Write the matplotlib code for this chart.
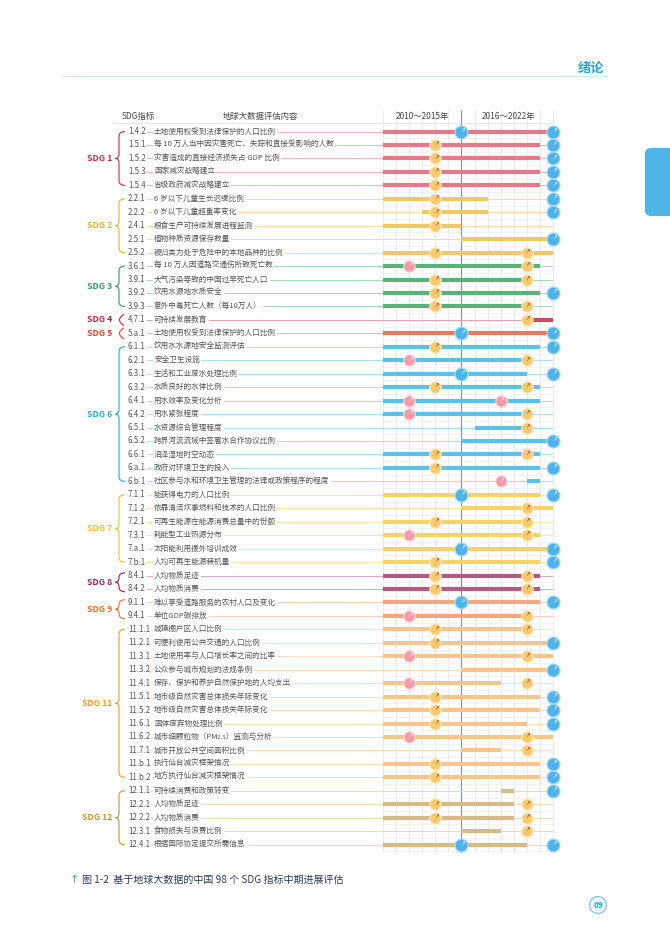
import matplotlib.pyplot as plt
from matplotlib.path import Path
from matplotlib.patches import PathPatch, FancyBboxPatch, Circle

plt.rcParams['font.family'] = ['Noto Sans CJK SC', 'DejaVu Sans']

# ---- data ----
codes = ['1.4.2', '1.5.1', '1.5.2', '1.5.3', '1.5.4',
         '2.2.1', '2.2.2', '2.4.1', '2.5.1', '2.5.2',
         '3.6.1', '3.9.1', '3.9.2', '3.9.3',
         '4.7.1', '5.a.1',
         '6.1.1', '6.2.1', '6.3.1', '6.3.2', '6.4.1', '6.4.2', '6.5.1', '6.5.2', '6.6.1', '6.a.1', '6.b.1',
         '7.1.1', '7.1.2', '7.2.1', '7.3.1', '7.a.1', '7.b.1',
         '8.4.1', '8.4.2', '9.1.1', '9.4.1',
         '11.1.1', '11.2.1', '11.3.1', '11.3.2', '11.4.1', '11.5.1', '11.5.2', '11.6.1', '11.6.2',
         '11.7.1', '11.b.1', '11.b.2',
         '12.1.1', '12.2.1', '12.2.2', '12.3.1', '12.4.1']

names = ['土地使用权受到法律保护的人口比例',
         '每 10 万人当中因灾害死亡、失踪和直接受影响的人数',
         '灾害造成的直接经济损失占 GDP 比例',
         '国家减灾战略建立',
         '省级政府减灾战略建立',
         '6 岁以下儿童生长迟缓比例',
         '6 岁以下儿童超重率变化',
         '粮食生产可持续发展进程监测',
         '植物种质资源保存数量',
         '被归类为处于危险中的本地品种的比例',
         '每 10 万人因道路交通伤所致死亡数',
         '大气污染导致的中国过早死亡人口',
         '饮用水源地水质安全',
         '意外中毒死亡人数（每10万人）',
         '可持续发展教育',
         '土地使用权受到法律保护的人口比例',
         '饮用水水源地安全监测评估',
         '安全卫生设施',
         '生活和工业废水处理比例',
         '水质良好的水体比例',
         '用水效率及变化分析',
         '用水紧张程度',
         '水资源综合管理程度',
         '跨界河流流域中签署水合作协议比例',
         '沼泽湿地时空动态',
         '政府对环境卫生的投入',
         '社区参与水和环境卫生管理的法律或政策程序的程度',
         '能获得电力的人口比例',
         '依靠清洁炊事燃料和技术的人口比例',
         '可再生能源在能源消费总量中的份额',
         '耗能型工业热源分布',
         '太阳能利用援外培训成效',
         '人均可再生能源装机量',
         '人均物质足迹',
         '人均物质消费',
         '难以享受道路服务的农村人口及变化',
         '单位GDP碳排放',
         '城镇棚户区人口比例',
         '可便利使用公共交通的人口比例',
         '土地使用率与人口增长率之间的比率',
         '公众参与城市规划的法规条例',
         '保存、保护和养护自然保护地的人均支出',
         '地市级自然灾害总体损失年际变化',
         '地市级自然灾害总体损失年际变化',
         '固体废弃物处理比例',
         '城市细颗粒物（PM₂.₅）监测与分析',
         '城市开放公共空间面积比例',
         '执行仙台减灾框架情况',
         '地方执行仙台减灾框架情况',
         '可持续消费和政策转变',
         '人均物质足迹',
         '人均物质消费',
         '食物损失与浪费比例',
         '根据国际协定提交所需信息']

sdg_of_row = [1] * 5 + [2] * 5 + [3] * 4 + [4, 5] + [6] * 11 + [7] * 6 + [8] * 2 + [9] * 2 + [11] * 12 + [12] * 5

# evaluated period of each indicator (year boundaries)
bar_start = [2010, 2010, 2010, 2010, 2010,
             2010, 2013, 2010, 2016, 2010,
             2010, 2010, 2010, 2010,
             2021, 2010,
             2010, 2010, 2010, 2010, 2010, 2010, 2017, 2016, 2010, 2010, 2021,
             2010, 2016, 2010, 2010, 2010, 2010,
             2010, 2010, 2010, 2010,
             2010, 2010, 2010, 2016, 2010, 2010, 2010, 2010, 2010, 2016, 2010, 2010,
             2019, 2010, 2010, 2016, 2010]
bar_end = [2023, 2022, 2022, 2022, 2022,
           2018, 2018, 2016, 2023, 2023,
           2022, 2021, 2022, 2021,
           2023, 2023,
           2022, 2021, 2021, 2022, 2022, 2021, 2021, 2023, 2022, 2022, 2022,
           2022, 2023, 2021, 2022, 2023, 2022,
           2022, 2022, 2022, 2021,
           2021, 2023, 2023, 2023, 2019, 2022, 2022, 2021, 2023, 2019, 2022, 2022,
           2020, 2020, 2020, 2019, 2021]

# assessment marks: o = 中等, p = 较差, b = 良好 (None = no mark)
mark1_pos = [2016, 2014, 2014, 2014, 2014,
             2014, 2014, 2014, None, 2014,
             2012, 2014, 2014, 2014,
             None, 2016,
             2014, 2012, 2016, 2014, 2012, 2012, None, None, 2014, 2014, 2019,
             2016, None, 2014, 2012, 2016, 2014,
             2014, 2014, 2016, 2012,
             2014, 2014, 2012, None, 2012, 2014, 2014, 2014, 2012, None, 2014, 2014,
             None, 2014, 2014, None, 2016]
mark1_kind = ['b', 'o', 'o', 'o', 'o',
              'o', 'o', 'o', None, 'o',
              'p', 'o', 'o', 'o',
              None, 'b',
              'o', 'p', 'b', 'o', 'p', 'p', None, None, 'o', 'o', 'p',
              'b', None, 'o', 'p', 'b', 'o',
              'o', 'o', 'b', 'p',
              'o', 'o', 'p', None, 'p', 'o', 'o', 'o', 'p', None, 'o', 'o',
              None, 'o', 'o', None, 'b']
mark2_pos = [2023, 2023, 2023, 2023, 2023,
             2023, 2023, None, 2023, 2021,
             2021, 2021, 2023, 2021,
             2021, 2023,
             2023, 2021, 2023, 2021, 2019, 2021, 2021, 2023, 2021, 2023, None,
             2023, 2021, 2021, 2021, 2023, 2023,
             2021, 2021, 2023, 2021,
             2021, 2023, 2021, 2023, 2021, 2023, 2023, 2023, 2021, 2021, 2023, 2023,
             2023, 2021, 2021, 2021, 2023]
mark2_kind = ['b', 'b', 'b', 'b', 'b',
              'b', 'b', None, 'b', 'o',
              'o', 'o', 'b', 'o',
              'o', 'b',
              'b', 'o', 'b', 'o', 'p', 'o', 'o', 'b', 'o', 'b', None,
              'b', 'o', 'o', 'o', 'b', 'b',
              'o', 'o', 'b', 'o',
              'o', 'b', 'o', 'b', 'o', 'b', 'b', 'b', 'o', 'o', 'b', 'b',
              'b', 'o', 'o', 'o', 'b']

sdg_ids = [1, 2, 3, 4, 5, 6, 7, 8, 9, 11, 12]
sdg_label_colors = ['#cf2a40', '#e3b325', '#2f9d52', '#c3223c', '#e9402e', '#1caee0',
                    '#f2bf1e', '#a21d4c', '#f06a2c', '#f29a1e', '#c7982e']
sdg_bar_colors = ['#e27a88', '#edcb62', '#58b37a', '#c94b5c', '#ee7464', '#5ec1e3',
                  '#f6d462', '#b05b80', '#f5a67c', '#f6c58f', '#d6bb84']
sdg_line_colors = ['#eab5bd', '#f2dfa4', '#a9d8b8', '#e2a4ad', '#f5b8af', '#ade0f1',
                   '#f8e5a6', '#d7aabd', '#f9d2bc', '#f9dfc3', '#e8dbbe']

mark_face = {'o': '#f8c96f', 'p': '#f39aa8', 'b': '#4db3ea'}
mark_edge = {'o': '#fde7bb', 'p': '#fbd2d8', 'b': '#a6daf5'}
mark_size = {'o': 66, 'p': 66, 'b': 86}
mark_icon = {'o': '#6b4c22', 'p': '#ffffff', 'b': '#ffffff'}

n_rows = len(codes)
text_gray = '#555555'

# ---- figure ----
W, H = 670, 947
fig = plt.figure(figsize=(W / 100, H / 100), dpi=100)

# page layer in pixel units
page = fig.add_axes([0, 0, 1, 1])
page.set_xlim(0, W)
page.set_ylim(H, 0)
page.axis('off')
page.plot([62, 607], [76, 76], color='#d5e7ef', lw=0.8)
page.text(604, 68, '绪论', color='#2ba6d9', fontsize=9.5, fontweight='bold', ha='right', va='center')
page.add_patch(FancyBboxPatch((645, 148), 40, 68, boxstyle='round,pad=0,rounding_size=6',
                              facecolor='#4db6e6', edgecolor='none'))
page.text(70, 880, '↑', color='#2ba6d9', fontsize=8, ha='left', va='center', family=['DejaVu Sans'])
page.text(82, 880, '图 1-2  基于地球大数据的中国 98 个 SDG 指标中期进展评估', color='#2b3a58',
          fontsize=7.2, ha='left', va='center')
page.add_patch(Circle((598, 905), 8.5, facecolor='#eaf6fc', edgecolor='#7ccbec', lw=0.9))
page.text(598, 905.5, '09', color='#2ba6d9', fontsize=6, fontweight='bold', ha='center', va='center')

top_px, bot_px = 110, 852
y_top, y_bot = -1.6, n_rows - 0.45
ax_h = (bot_px - top_px) / H
ax_b = 1 - bot_px / H

lab = fig.add_axes([0, ax_b, 383 / W, ax_h])
lab.set_xlim(0, 383)
lab.set_ylim(y_bot, y_top)
lab.axis('off')

ax = fig.add_axes([383 / W, ax_b, 170 / W, ax_h])
ax.set_xlim(2010, 2023)
ax.set_ylim(y_bot, y_top)
ax.axis('off')

# grid
for yr in range(2010, 2024):
    ax.plot([yr, yr], [y_top, y_bot], color='#e6e6e6', lw=0.6, zorder=0, clip_on=False)
for r in range(n_rows + 1):
    ax.plot([2010, 2023], [r - 0.5, r - 0.5], color='#efefef', lw=0.5, zorder=0)
ax.plot([2016, 2016], [y_top, y_bot], color='#7f93a3', lw=0.8, zorder=1, clip_on=False)

# header
lab.plot([113, 383], [-0.62, -0.62], color='#e2e2e2', lw=0.6)
ax.plot([2010, 2023], [-0.62, -0.62], color='#e2e2e2', lw=0.6)
lab.text(138, -1.1, 'SDG指标', fontsize=6, color='#444444', ha='center', va='center')
lab.text(260, -1.1, '地球大数据评估内容', fontsize=6, color='#444444', ha='center', va='center')
ax.text(2013, -1.1, '2010～2015年', fontsize=6, color='#444444', ha='center', va='center')
ax.text(2019.6, -1.1, '2016～2022年', fontsize=6, color='#444444', ha='center', va='center')

# rows
for i in range(n_rows):
    g = sdg_ids.index(sdg_of_row[i])
    lc = sdg_line_colors[g]
    lab.plot([128, 383], [i, i], color=lc, lw=0.7, zorder=1)
    ax.plot([2010, 2023], [i, i], color=lc, lw=0.7, zorder=1)
    lab.text(128, i, codes[i], fontsize=5.7, color=text_gray, ha='left', va='center', zorder=2,
             bbox=dict(facecolor='white', edgecolor='none', pad=0.8))
    lab.text(154, i, names[i], fontsize=5.5, color=text_gray, ha='left', va='center', zorder=2,
             bbox=dict(facecolor='white', edgecolor='none', pad=0.8))
    ax.plot([bar_start[i], bar_end[i]], [i, i], color=sdg_bar_colors[g], lw=3.0,
            solid_capstyle='butt', zorder=2, clip_on=False)
    for pos, kind in ((mark1_pos[i], mark1_kind[i]), (mark2_pos[i], mark2_kind[i])):
        if kind is None:
            continue
        ax.scatter([pos], [i], s=mark_size[kind], color=mark_face[kind], edgecolors=mark_edge[kind],
                   linewidths=0.9, zorder=3, clip_on=False)
        ax.text(pos + 0.08, i - 0.08, '↗', fontsize=4, color=mark_icon[kind], ha='center', va='center',
                family=['DejaVu Sans'], zorder=4, clip_on=False)

# group braces and labels
for g, sid in enumerate(sdg_ids):
    rows = [i for i in range(n_rows) if sdg_of_row[i] == sid]
    r0, r1 = rows[0], rows[-1]
    mid = (r0 + r1) / 2
    col = sdg_label_colors[g]
    if r0 == r1:
        verts = [(124, r0 - 0.42), (115, r0), (124, r0 + 0.42)]
        cmds = [Path.MOVETO, Path.CURVE3, Path.CURVE3]
    else:
        if r1 - r0 == 1:
            r0, r1 = r0 - 0.2, r1 + 0.2
        rad = min(0.35, (r1 - r0) / 4)
        x0 = 119
        verts = [(125, r0), (x0, r0), (x0, r0 + rad),
                 (x0, mid - rad), (x0, mid), (x0 - 3.5, mid),
                 (x0, mid), (x0, mid + rad),
                 (x0, r1 - rad), (x0, r1), (125, r1)]
        cmds = [Path.MOVETO, Path.CURVE3, Path.CURVE3,
                Path.LINETO, Path.CURVE3, Path.CURVE3,
                Path.CURVE3, Path.CURVE3,
                Path.LINETO, Path.CURVE3, Path.CURVE3]
    lab.add_patch(PathPatch(Path(verts, cmds), facecolor='none', edgecolor=col, lw=0.8))
    lab.text(112, mid, f'SDG {sid}', fontsize=6.3, fontweight='bold', color=col, ha='right', va='center')

fig.savefig('out.png', dpi=100)
